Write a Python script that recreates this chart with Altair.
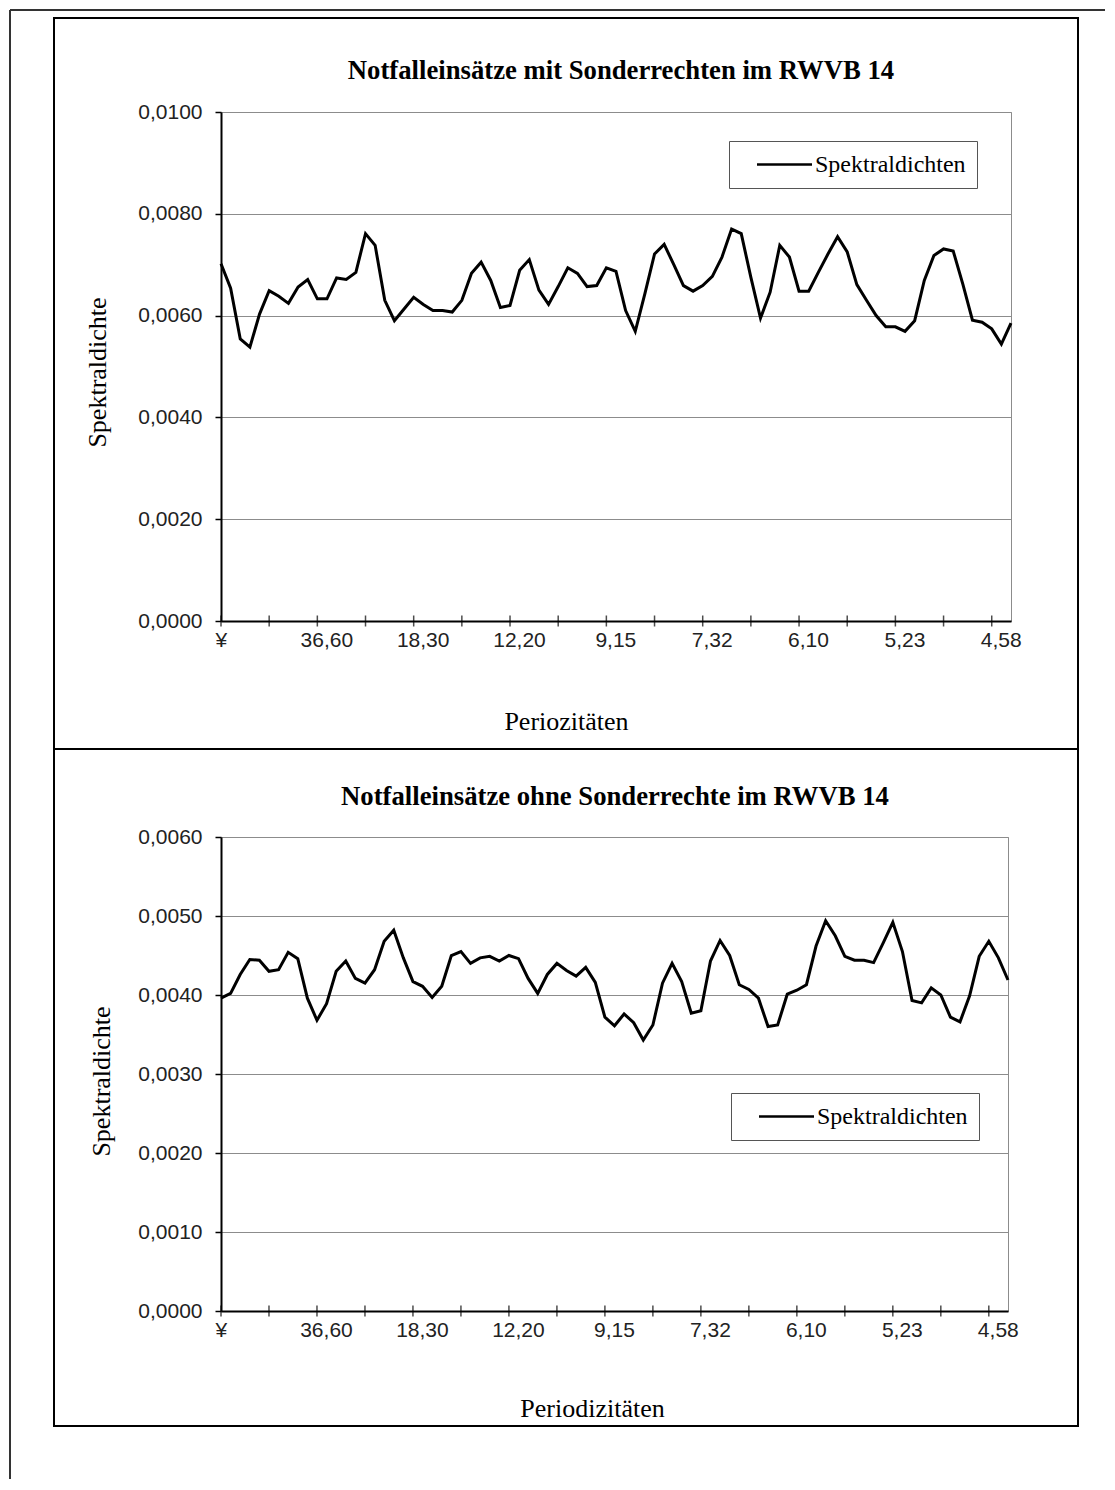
import json
import pandas as pd
import altair as alt

# ---------------- data ----------------
top_title = "Notfalleinsätze mit Sonderrechten im RWVB 14"
bottom_title = "Notfalleinsätze ohne Sonderrechte im RWVB 14"
y_title = "Spektraldichte"
top_x_title = "Periozitäten"
bottom_x_title = "Periodizitäten"
series_name = "Spektraldichten"

x_tick_labels = ["¥", "36,60", "18,30", "12,20", "9,15", "7,32", "6,10", "5,23", "4,58"]
x_label_positions = [0, 10, 20, 30, 40, 50, 60, 70, 80]
x_tick_positions = [0, 5, 10, 15, 20, 25, 30, 35, 40, 45, 50, 55, 60, 65, 70, 75, 80]

top_y_ticks = [0.0, 0.002, 0.004, 0.006, 0.008, 0.010]
bottom_y_ticks = [0.0, 0.001, 0.002, 0.003, 0.004, 0.005, 0.006]

top_values = [
    0.00702, 0.00654, 0.00554, 0.00538, 0.00603, 0.00649, 0.00638, 0.00624, 0.00656, 0.00671,
    0.00633, 0.00633, 0.00674, 0.00671, 0.00685, 0.00761, 0.00738, 0.00630, 0.00590, 0.00613,
    0.00636, 0.00622, 0.00610, 0.00610, 0.00607, 0.00630, 0.00683, 0.00705, 0.00669, 0.00616,
    0.00620, 0.00689, 0.00710, 0.00650, 0.00622, 0.00657, 0.00694, 0.00683, 0.00657, 0.00659,
    0.00694, 0.00687, 0.00610, 0.00569, 0.00643, 0.00721, 0.00740, 0.00700, 0.00659, 0.00648,
    0.00659, 0.00677, 0.00715, 0.00770, 0.00761, 0.00675, 0.00595, 0.00646, 0.00738, 0.00715,
    0.00648, 0.00648, 0.00685, 0.00721, 0.00755, 0.00725, 0.00661, 0.00630, 0.00600, 0.00578,
    0.00578, 0.00569, 0.00590, 0.00669, 0.00718, 0.00731, 0.00727, 0.00662, 0.00591, 0.00587,
    0.00574, 0.00544, 0.00585,
]

bottom_values = [
    0.00396, 0.00402, 0.00426, 0.00445, 0.00444, 0.00430, 0.00432, 0.00454, 0.00446, 0.00396,
    0.00368, 0.00389, 0.00430, 0.00443, 0.00421, 0.00415, 0.00432, 0.00468, 0.00482, 0.00447,
    0.00417, 0.00411, 0.00397, 0.00411, 0.00450, 0.00455, 0.00440, 0.00447, 0.00449, 0.00443,
    0.00450, 0.00446, 0.00421, 0.00402, 0.00426, 0.00440, 0.00431, 0.00424, 0.00435, 0.00416,
    0.00372, 0.00361, 0.00376, 0.00365, 0.00343, 0.00362, 0.00415, 0.00440, 0.00417, 0.00377,
    0.00380, 0.00443, 0.00469, 0.00450, 0.00413, 0.00407, 0.00396, 0.00360, 0.00362, 0.00401,
    0.00406, 0.00413, 0.00462, 0.00494, 0.00475, 0.00449, 0.00444, 0.00444, 0.00441, 0.00466,
    0.00492, 0.00455, 0.00393, 0.00390, 0.00409, 0.00400, 0.00372, 0.00366, 0.00399, 0.00449,
    0.00468, 0.00447, 0.00419,
]

# ---------------- helpers ----------------
SANS = "Liberation Sans"
SERIF = "Liberation Serif"
x_label_expr = json.dumps(x_tick_labels, ensure_ascii=False) + "[round(datum.value / 10)]"
y_label_expr = "replace(format(datum.value, '.4f'), '.', ',')"


def panel(values, y_ticks, y_max, title, title_xy, x_title, x_title_xy, y_title_xy,
          legend_xy, frame_box, width, height, outer=None):
    df = pd.DataFrame({"i": list(range(len(values))), "v": values, "s": [series_name] * len(values)})
    ticks_df = pd.DataFrame({"i": x_tick_positions, "v": [0.0] * len(x_tick_positions)})
    one = pd.DataFrame({"k": [0]})

    x_axis = alt.Axis(
        values=x_label_positions, labelExpr=x_label_expr, grid=False, ticks=False,
        domainColor="black", domainWidth=2,
        labelFont=SANS, labelFontSize=21, labelColor="#222", labelPadding=8,
        labelOffset={"condition": {"test": "datum.value == 0", "value": -6}, "value": 9},
        title=x_title, titleX=x_title_xy[0], titleY=x_title_xy[1],
        titleFont=SERIF, titleFontSize=26, titleFontWeight="normal", titleColor="black",
        titleAlign="center", titleBaseline="middle",
    )
    y_axis = alt.Axis(
        values=y_ticks, labelExpr=y_label_expr, grid=True, gridColor="#8c8c8c", gridWidth=1.2,
        tickColor="black", tickSize=6, tickWidth=1.5,
        domainColor="black", domainWidth=2,
        labelFont=SANS, labelFontSize=21, labelColor="#222", labelPadding=13,
        title=y_title, titleX=y_title_xy[0], titleY=y_title_xy[1], titleAngle=270,
        titleFont=SERIF, titleFontSize=26, titleFontWeight="normal", titleColor="black",
        titleAlign="center", titleBaseline="middle",
    )
    x_enc = alt.X("i:Q", scale=alt.Scale(domain=[0, len(values) - 1], nice=False, zero=False), axis=x_axis)
    y_enc = alt.Y("v:Q", scale=alt.Scale(domain=[0, y_max], nice=False), axis=y_axis)

    line = alt.Chart(df).mark_line(strokeWidth=3, color="black").encode(
        x=x_enc, y=y_enc,
        color=alt.Color("s:N", scale=alt.Scale(domain=[series_name], range=["black"]),
                        legend=alt.Legend(
                            title=None, orient="none", legendX=legend_xy[0], legendY=legend_xy[1],
                            symbolType="M-2.5,0L2.5,0", symbolSize=484, symbolStrokeWidth=2.5,
                            symbolOffset=32, labelOffset=18,
                            labelFont=SERIF, labelFontSize=24, labelColor="black",
                            padding=11, strokeColor="#555", fillColor="white",
                        )),
    )
    ticks = alt.Chart(ticks_df).mark_tick(orient="vertical", size=11, thickness=1.5, color="black").encode(
        x=x_enc, y=y_enc
    )
    frame = alt.Chart(one).mark_rect(fillOpacity=0, stroke="black", strokeWidth=2).encode(
        x=alt.value(frame_box[0]), x2=alt.value(frame_box[1]),
        y=alt.value(frame_box[2]), y2=alt.value(frame_box[3]),
    )
    ttl = alt.Chart(one).mark_text(font=SERIF, fontSize=26.7, fontWeight="bold", align="center",
                                   baseline="alphabetic", color="black").encode(
        x=alt.value(title_xy[0]), y=alt.value(title_xy[1]), text=alt.value(title)
    )
    layers = [frame, line, ticks, ttl]
    if outer is not None:
        ox, oy, ox2, oy2 = outer
        top_rule = alt.Chart(one).mark_rule(color="#333", strokeWidth=2).encode(
            x=alt.value(ox), x2=alt.value(ox2), y=alt.value(oy)
        )
        left_rule = alt.Chart(one).mark_rule(color="#333", strokeWidth=2).encode(
            x=alt.value(ox), y=alt.value(oy), y2=alt.value(oy2)
        )
        layers = [top_rule, left_rule] + layers
    return alt.layer(*layers).properties(width=width, height=height)


p1 = panel(top_values, top_y_ticks, 0.010, top_title, (400, -33),
           top_x_title, (345, 100), (-124, 260), (508, 29),
           (-167, 857, -94, 637), 790, 509, outer=(-211, -102, 884, 1367))
p2 = panel(bottom_values, bottom_y_ticks, 0.006, bottom_title, (394, -32),
           bottom_x_title, (371, 97), (-120, 244), (510, 256),
           (-167, 857, -88, 589), 787, 474)

chart = (
    alt.vconcat(p1, p2, spacing=216, bounds="flush")
    .resolve_scale(color="independent")
    .resolve_legend(color="independent")
    .properties(padding=0)
    .configure_view(stroke="#8c8c8c", strokeWidth=1)
)

chart.save("out.html", embed_options={"renderer": "svg", "actions": False})
